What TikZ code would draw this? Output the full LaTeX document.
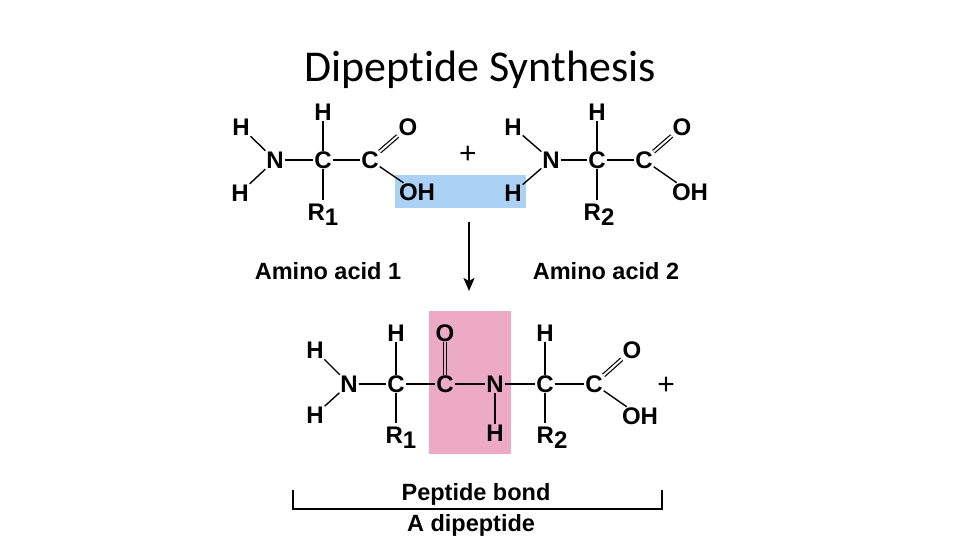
\documentclass[tikz,border=0pt]{standalone}
\usepackage{fontspec}
\setmainfont{Liberation Sans}
\newfontfamily\titlefont[Ligatures=NoCommon]{Carlito}
\usetikzlibrary{arrows.meta}
\definecolor{waterblue}{RGB}{171,210,245}
\definecolor{bondpink}{RGB}{236,170,196}
\newcommand{\atomsub}[2]{#1\raisebox{-5pt}{#2}}
\tikzset{
	atom/.style={font=\fontsize{24}{24}\selectfont\bfseries, inner sep=0pt, outer sep=1pt, text height=16.5pt, text depth=0pt},
	rgroup/.style={atom, anchor=north, text depth=9pt},
	caption/.style={font=\fontsize{23.5}{24}\selectfont\bfseries, inner sep=0pt, anchor=base},
	plus/.style={font=\fontsize{30}{30}\selectfont, inner sep=0pt},
	bond/.style={line width=1.4pt},
	rbond/.style={bond, shorten >=3pt},
	dbond/.style={line width=1.2pt, double distance=2pt, double=white},
}
\begin{document}
\begin{tikzpicture}[x=1pt,y=-1pt]
	\useasboundingbox (0,0) rectangle (960,540);
	\fill[white] (0,0) rectangle (960,540);
	\fill[waterblue] (395,175) rectangle (526,208);
	\fill[bondpink] (429,311) rectangle (511,454);
	\node[inner sep=0pt, anchor=base, font=\titlefont\fontsize{44}{44}\selectfont] at (480,82) (title) {Dipeptide Synthesis};

	\node[atom] at (241,127) (ah1) {H};
	\node[atom] at (240,193) (ah2) {H};
	\node[atom] at (275,160) (an) {N};
	\node[atom] at (323,160) (ac) {C};
	\node[atom] at (323,112) (ah3) {H};
	\node[rgroup] at (323,203) (ar) {\atomsub{R}{1}};
	\node[atom] at (370,160) (acc) {C};
	\node[atom] at (408,127) (ao) {O};
	\node[atom] at (417,192) (aoh) {OH};
	\node[plus] at (468,155) (plusa) {+};
	\draw[bond] (ah1) -- (an);
	\draw[bond] (ah2) -- (an);
	\draw[bond] (an) -- (ac);
	\draw[bond] (ac) -- (ah3);
	\draw[rbond] (ac) -- (ac |- ar.north);
	\draw[bond] (ac) -- (acc);
	\draw[dbond] (acc) -- (ao);
	\draw[bond] (acc) -- (aoh);

	\node[atom] at (513,127) (bh1) {H};
	\node[atom] at (513,193) (bh2) {H};
	\node[atom] at (551,160) (bn) {N};
	\node[atom] at (597,160) (bc) {C};
	\node[atom] at (597,112) (bh3) {H};
	\node[rgroup] at (599,203) (br) {\atomsub{R}{2}};
	\node[atom] at (644,160) (bcc) {C};
	\node[atom] at (682,127) (bo) {O};
	\node[atom] at (690,192) (boh) {OH};
	\draw[bond] (bh1) -- (bn);
	\draw[bond] (bh2) -- (bn);
	\draw[bond] (bn) -- (bc);
	\draw[bond] (bc) -- (bh3);
	\draw[rbond] (bc) -- (bc |- br.north);
	\draw[bond] (bc) -- (bcc);
	\draw[dbond] (bcc) -- (bo);
	\draw[bond] (bcc) -- (boh);

	\coordinate (arrowtop) at (469,222);
	\coordinate (arrowend) at (469,291);
	\draw[line width=2.2pt, -{Stealth[length=13pt,width=11pt,inset=3pt]}] (arrowtop) -- (arrowend);
	\node[caption] at (328,279) (acid1) {Amino acid 1};
	\node[caption] at (606,279) (acid2) {Amino acid 2};

	\node[atom] at (315,350) (ch1) {H};
	\node[atom] at (315,415) (ch2) {H};
	\node[atom] at (349,384) (cn) {N};
	\node[atom] at (396,384) (cc) {C};
	\node[atom] at (396,333) (ch3) {H};
	\node[rgroup] at (401,426) (cr) {\atomsub{R}{1}};
	\node[atom] at (445,384) (cco) {C};
	\node[atom] at (445,333) (co) {O};
	\node[atom] at (495,384) (cnh) {N};
	\node[atom] at (495,433) (ch4) {H};
	\node[atom] at (545,384) (dc) {C};
	\node[atom] at (545,333) (dh) {H};
	\node[rgroup] at (552,426) (dr) {\atomsub{R}{2}};
	\node[atom] at (594,384) (dcc) {C};
	\node[atom] at (632,350) (do) {O};
	\node[atom] at (640,416) (doh) {OH};
	\node[plus] at (666,386) (plusb) {+};
	\draw[bond] (ch1) -- (cn);
	\draw[bond] (ch2) -- (cn);
	\draw[bond] (cn) -- (cc);
	\draw[bond] (cc) -- (ch3);
	\draw[rbond] (cc) -- (cc |- cr.north);
	\draw[bond] (cc) -- (cco);
	\draw[dbond, double=bondpink] (cco) -- (co);
	\draw[bond] (cco) -- (cnh);
	\draw[bond] (cnh) -- (ch4);
	\draw[bond] (cnh) -- (dc);
	\draw[bond] (dc) -- (dh);
	\draw[rbond] (dc) -- (dc |- dr.north);
	\draw[bond] (dc) -- (dcc);
	\draw[dbond] (dcc) -- (do);
	\draw[bond] (dcc) -- (doh);

	\node[caption] at (476,500) (bondlabel) {Peptide bond};
	\coordinate (bracketl) at (293,490);
	\coordinate (bracketr) at (662,490);
	\coordinate (bracketbl) at (293,509);
	\coordinate (bracketbr) at (662,509);
	\draw[line width=1.5pt] (bracketl) -- (bracketbl) -- (bracketbr) -- (bracketr);
	\node[caption] at (471,531) (dipeptide) {A dipeptide};
\end{tikzpicture}
\end{document}
